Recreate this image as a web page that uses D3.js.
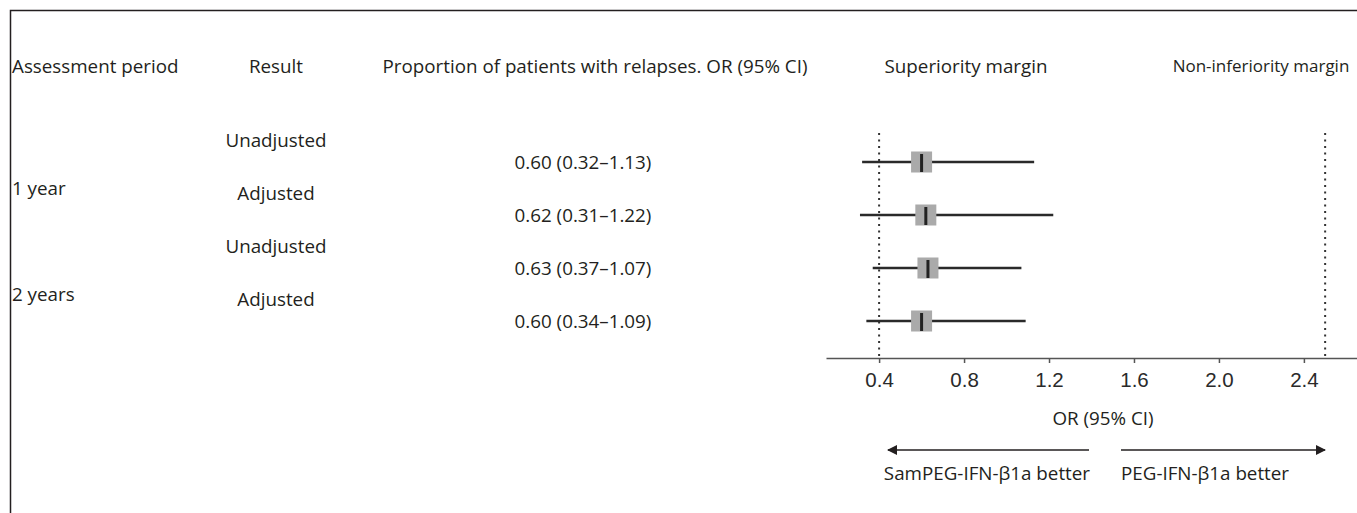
<!DOCTYPE html>
<meta charset="utf-8">
<style>
body { margin: 0; background: #fff; }
svg { display: block; }
.lbl { font-family: "Open Sans", sans-serif; font-size: 18.8px; fill: #231f20; }
.axis text { font-family: "Liberation Sans", Arial, sans-serif; font-size: 20.5px; fill: #2a2a2a; }
.axis path, .axis line { stroke: #555; stroke-width: 1.5; }
</style>
<svg width="1357" height="513"></svg>
<script src="https://d3js.org/d3.v7.min.js"></script>
<script>

var periods = ["1 year", "2 years"];
var results = ["Unadjusted", "Adjusted", "Unadjusted", "Adjusted"];
var orValue = [0.60, 0.62, 0.63, 0.60];
var orLow = [0.32, 0.31, 0.37, 0.34];
var orHigh = [1.13, 1.22, 1.07, 1.09];
var ticks = [0.4, 0.8, 1.2, 1.6, 2.0, 2.4];
var margins = [0.4, 2.5];
var headers = ["Assessment period", "Result", "Proportion of patients with relapses. OR (95% CI)", "Superiority margin", "Non-inferiority margin"];

var svg = d3.select("svg");

// frame (left + top only)
svg.append("path")
    .attr("d", "M10.5,513V10.5H1357")
    .attr("fill", "none")
    .attr("stroke", "#231f20")
    .attr("stroke-width", 1.5);

var x = d3.scaleLinear().domain([0.15, 2.65]).range([826, 1357]);
var y = d3.scalePoint().domain(d3.range(orValue.length)).range([162, 321]);
var axisY = 358;

var fmt = d3.format(".2f");

// headers
var hx = [12, 276, 595, 966, 1261];
var hAnchor = ["start", "middle", "middle", "middle", "middle"];
svg.selectAll(".hdr")
  .data(headers)
  .enter().append("text")
    .attr("class", "lbl hdr")
    .attr("x", function(d, i) { return hx[i]; })
    .attr("y", 66)
    .attr("dy", "0.35em")
    .attr("text-anchor", function(d, i) { return hAnchor[i]; })
    .style("font-size", function(d, i) { return i === 4 ? "17px" : null; })
    .text(function(d) { return d; });

// period labels, centred between their two rows
svg.selectAll(".period")
  .data(periods)
  .enter().append("text")
    .attr("class", "lbl period")
    .attr("x", 12)
    .attr("y", function(d, i) { return (y(i * 2) + y(i * 2 + 1)) / 2; })
    .attr("dy", "0.35em")
    .text(function(d) { return d; });

svg.selectAll(".result")
  .data(results)
  .enter().append("text")
    .attr("class", "lbl result")
    .attr("x", 276)
    .attr("y", function(d, i) { return y(i) - 22; })
    .attr("dy", "0.35em")
    .attr("text-anchor", "middle")
    .text(function(d) { return d; });

svg.selectAll(".val")
  .data(orValue)
  .enter().append("text")
    .attr("class", "lbl val")
    .attr("x", 583)
    .attr("y", function(d, i) { return y(i); })
    .attr("dy", "0.35em")
    .attr("text-anchor", "middle")
    .text(function(d, i) { return fmt(d) + " (" + fmt(orLow[i]) + "\u2013" + fmt(orHigh[i]) + ")"; });

// margin lines
svg.selectAll(".margin")
  .data(margins)
  .enter().append("line")
    .attr("x1", function(d) { return x(d); })
    .attr("x2", function(d) { return x(d); })
    .attr("y1", 133)
    .attr("y2", axisY)
    .attr("stroke", "#333")
    .attr("stroke-width", 2)
    .attr("stroke-dasharray", "2,4.5");

// CI lines
svg.selectAll(".ci")
  .data(orValue)
  .enter().append("line")
    .attr("x1", function(d, i) { return x(orLow[i]); })
    .attr("x2", function(d, i) { return x(orHigh[i]); })
    .attr("y1", function(d, i) { return y(i); })
    .attr("y2", function(d, i) { return y(i); })
    .attr("stroke", "#2a2a2a")
    .attr("stroke-width", 2.5);

svg.selectAll(".box")
  .data(orValue)
  .enter().append("rect")
    .attr("x", function(d) { return x(d) - 10.5; })
    .attr("y", function(d, i) { return y(i) - 10.5; })
    .attr("width", 21)
    .attr("height", 21)
    .attr("fill", "#aaaaaa");

svg.selectAll(".pt")
  .data(orValue)
  .enter().append("line")
    .attr("x1", function(d) { return x(d); })
    .attr("x2", function(d) { return x(d); })
    .attr("y1", function(d, i) { return y(i) - 8; })
    .attr("y2", function(d, i) { return y(i) + 10; })
    .attr("stroke", "#222")
    .attr("stroke-width", 3);

// axis
svg.append("g")
    .attr("class", "axis")
    .attr("transform", "translate(0," + axisY + ")")
    .call(d3.axisBottom(x).tickValues(ticks).tickFormat(d3.format(".1f")).tickSizeInner(5).tickSizeOuter(0).tickPadding(9));

svg.append("text")
    .attr("class", "lbl")
    .attr("x", 1103)
    .attr("y", 418)
    .attr("dy", "0.35em")
    .attr("text-anchor", "middle")
    .text("OR (95% CI)");

// direction arrows
svg.append("defs").append("marker")
    .attr("id", "ah")
    .attr("viewBox", "0 0 10 10")
    .attr("refX", 9)
    .attr("refY", 5)
    .attr("markerWidth", 14)
    .attr("markerHeight", 10)
    .attr("markerUnits", "userSpaceOnUse")
    .attr("orient", "auto")
  .append("path")
    .attr("d", "M0,0L10,5L0,10z")
    .attr("fill", "#231f20");

svg.append("line")
    .attr("x1", 1089).attr("x2", 888)
    .attr("y1", 450).attr("y2", 450)
    .attr("stroke", "#231f20").attr("stroke-width", 1.5)
    .attr("marker-end", "url(#ah)");

svg.append("line")
    .attr("x1", 1121).attr("x2", 1325)
    .attr("y1", 450).attr("y2", 450)
    .attr("stroke", "#231f20").attr("stroke-width", 1.5)
    .attr("marker-end", "url(#ah)");

svg.append("text")
    .attr("class", "lbl")
    .attr("x", 1090)
    .attr("y", 473)
    .attr("dy", "0.35em")
    .attr("text-anchor", "end")
    .text("SamPEG-IFN-\u03b21a better");

svg.append("text")
    .attr("class", "lbl")
    .attr("x", 1121)
    .attr("y", 473)
    .attr("dy", "0.35em")
    .text("PEG-IFN-\u03b21a better");

</script>
